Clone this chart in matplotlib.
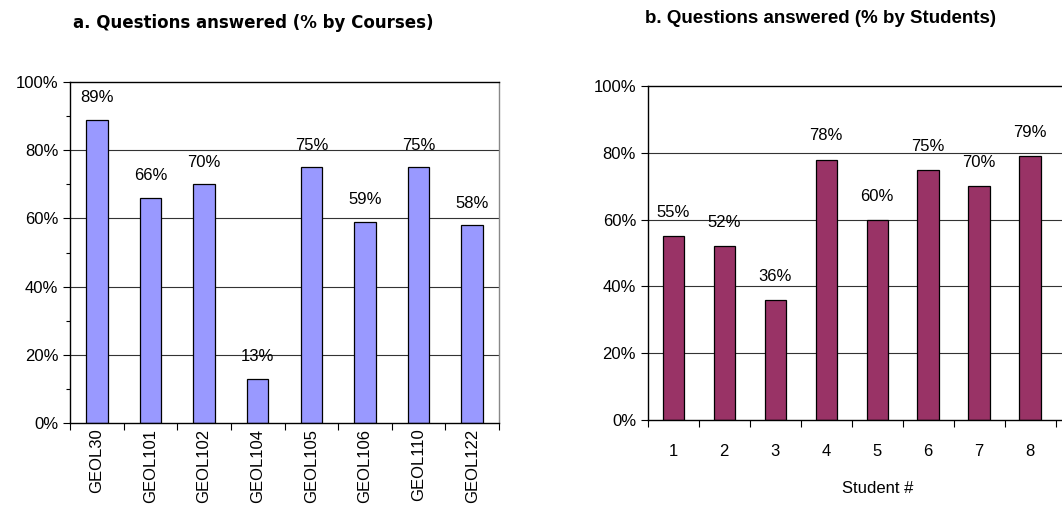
import matplotlib.pyplot as plt
import numpy as np
from matplotlib.ticker import FixedLocator, PercentFormatter

# data
courses = ["GEOL30", "GEOL101", "GEOL102", "GEOL104", "GEOL105", "GEOL106", "GEOL110", "GEOL122"]
course_pct = [89, 66, 70, 13, 75, 59, 75, 58]
students = ["1", "2", "3", "4", "5", "6", "7", "8"]
student_pct = [55, 52, 36, 78, 60, 75, 70, 79]

plt.rcParams["font.family"] = ["Liberation Sans", "DejaVu Sans"]

fig = plt.figure(figsize=(10.62, 5.12), dpi=100)


def style_axes(ax, n, minor_y, fs):
    ax.set_xlim(-0.5, n - 0.5)
    ax.set_ylim(0, 100)
    ax.yaxis.set_major_locator(FixedLocator([0, 20, 40, 60, 80, 100]))
    ax.yaxis.set_major_formatter(PercentFormatter(decimals=0))
    if minor_y:
        ax.yaxis.set_minor_locator(FixedLocator(np.arange(10, 100, 20)))
    ax.xaxis.set_minor_locator(FixedLocator(np.arange(-0.5, n, 1.0)))
    ax.tick_params(axis="x", which="major", length=0)
    ax.tick_params(axis="x", which="minor", length=5, width=0.8, direction="out")
    ax.tick_params(axis="y", which="major", length=5, width=0.8, direction="out", labelsize=fs)
    ax.tick_params(axis="y", which="minor", length=3, width=0.8, direction="out")
    for y in [20, 40, 60, 80]:
        ax.axhline(y, color="#333333", lw=0.8, zorder=0)
    for s in ax.spines.values():
        s.set_linewidth(1.0)
    ax.spines["right"].set_color("#888888")


# a. by courses
ax1 = fig.add_axes([0.0659, 0.1738, 0.404, 0.666])
x1 = np.arange(len(courses))
ax1.bar(x1, course_pct, width=0.4, color="#9999FF", edgecolor="black", linewidth=0.9, zorder=2)
style_axes(ax1, len(courses), True, 12)
ax1.set_xticks(x1)
ax1.set_xticklabels(courses, rotation=90, fontsize=12)
ax1.tick_params(axis="x", which="major", pad=4)
for xi, v in zip(x1, course_pct):
    ax1.annotate(f"{v}%", (xi, v), xytext=(0, 16), textcoords="offset points",
                 ha="center", va="center", fontsize=12)
fig.text(0.238, 0.955, "a. Questions answered (% by Courses)", ha="center", va="center",
         fontsize=12, fontweight="bold", family="DejaVu Sans")

# b. by students
ax2 = fig.add_axes([0.610, 0.1797, 0.432, 0.652])
x2 = np.arange(len(students))
ax2.bar(x2, student_pct, width=0.42, color="#993366", edgecolor="black", linewidth=0.9, zorder=2)
style_axes(ax2, len(students) + 1, False, 12)
ax2.set_xticks(x2)
ax2.set_xticklabels(students, fontsize=12)
ax2.tick_params(axis="x", which="major", pad=17)
ax2.set_xlabel("Student #", fontsize=12, labelpad=16)
for xi, v in zip(x2, student_pct):
    ax2.annotate(f"{v}%", (xi, v), xytext=(0, 17), textcoords="offset points",
                 ha="center", va="center", fontsize=12)
fig.text(0.773, 0.964, "b. Questions answered (% by Students)", ha="center", va="center",
         fontsize=13.5, fontweight="bold")

fig.savefig("out.png", dpi=100)
